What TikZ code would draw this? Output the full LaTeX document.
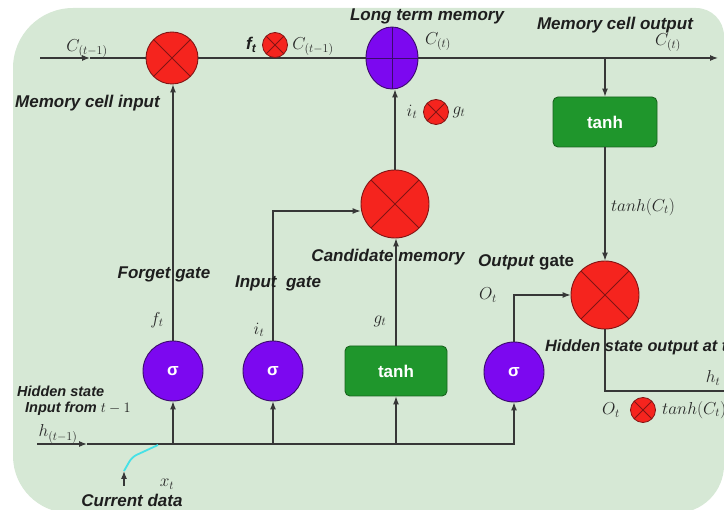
\documentclass[tikz,border=0pt]{standalone}
\usepackage{fontspec}
\setsansfont{Liberation Sans}
\usetikzlibrary{arrows.meta,shapes.geometric}

\definecolor{bgfill}{RGB}{214,232,213}
\definecolor{mulred}{RGB}{245,36,30}
\definecolor{rededge}{RGB}{130,20,20}
\definecolor{gatepurple}{RGB}{124,8,240}
\definecolor{purpleedge}{RGB}{60,10,110}
\definecolor{boxgreen}{RGB}{31,150,44}
\definecolor{greenedge}{RGB}{25,100,30}
\definecolor{linegray}{RGB}{55,55,55}
\definecolor{lblgray}{RGB}{30,30,30}
\definecolor{mathgray}{RGB}{40,40,40}
\definecolor{datacyan}{RGB}{70,225,230}

\tikzset{
  ln/.style={draw=linegray, line width=1.1pt},
  arr/.style={ln, -{Latex[length=8pt,width=6pt]}},
  lbl/.style={font=\fontsize{17}{20}\selectfont\sffamily\bfseries\itshape, text=lblgray, inner sep=0},
  lblsmall/.style={font=\fontsize{14.5}{17}\selectfont\sffamily\bfseries\itshape, text=lblgray, inner sep=0},
  mth/.style={font=\fontsize{18}{21}\selectfont, text=mathgray, inner sep=0},
  mul/.style={circle, draw=rededge, line width=0.9pt, fill=mulred, inner sep=0,
    path picture={\draw[rededge, line width=0.9pt]
      (path picture bounding box.north west) -- (path picture bounding box.south east)
      (path picture bounding box.north east) -- (path picture bounding box.south west);}},
  addop/.style={ellipse, draw=purpleedge, line width=0.9pt, fill=gatepurple, inner sep=0,
    minimum width=52, minimum height=62,
    path picture={\draw[purpleedge, line width=0.9pt]
      (path picture bounding box.north) -- (path picture bounding box.south)
      (path picture bounding box.west) -- (path picture bounding box.east);}},
  sig/.style={circle, draw=purpleedge, line width=0.9pt, fill=gatepurple, inner sep=0,
    minimum size=60, text=white, font=\fontsize{17}{19}\selectfont\sffamily\bfseries},
  tbox/.style={rectangle, rounded corners=5pt, draw=greenedge, line width=0.9pt, fill=boxgreen,
    minimum width=102, minimum height=50, text=white,
    font=\fontsize{17}{20}\selectfont\sffamily\bfseries},
}

\begin{document}
\begin{tikzpicture}[x=1pt,y=-1pt]
\useasboundingbox (0,0) rectangle (724,510);
\clip (0,0) rectangle (724,510);

% panel
\fill[bgfill] (73,8) -- (696,8) arc[start angle=-90,end angle=0,radius=28]
  -- (724,465) arc[start angle=0,end angle=90,radius=48]
  -- (70,513) arc[start angle=90,end angle=180,radius=57]
  -- (13,68) arc[start angle=180,end angle=270,radius=60] -- cycle;

% operators
\node[mul, minimum size=52] (fx) at (172,58) {};
\node[addop] (px) at (392,58) {};
\node[mul, minimum size=68] (cx) at (395,204) {};
\node[mul, minimum size=68] (ox) at (605,295) {};

% gates
\node[sig] (sf) at (173,371) {σ};
\node[sig] (si) at (273,371) {σ};
\node[sig] (so) at (514,372) {σ};
\node[tbox] (tb) at (396,371) {tanh};
\node[tbox, minimum width=104] (tt) at (605,122) {tanh};

% free ends
\coordinate (cin) at (40,58);
\coordinate (cmid) at (90,58);
\coordinate (cout) at (718,58);
\coordinate (ctap) at (605,58);
\coordinate (hin) at (37,444);
\coordinate (hmid) at (87,444);
\coordinate (hout) at (724,391);
\coordinate (xbase) at (124,486);
\coordinate (xtip) at (124,471);
\coordinate (xbend) at (132,457);
\coordinate (xjoin) at (158,445);

% cell state line
\draw[arr] (cin) -- (cmid);
\draw[ln] (cmid) -- (fx.west);
\draw[ln] (fx.east) -- (px.west);
\draw[arr] (px.east) -- (cout);
\draw[arr] (ctap) -- (tt.north);
\draw[arr] (tt.south) -- (ox.north);
\draw[ln] (ox.south) |- (hout);

% hidden state line and its branches
\draw[arr] (hin) -- (hmid);
\draw[arr] (hmid) -| (so.south);
\draw[arr] (sf.south |- hin) -- (sf.south);
\draw[arr] (si.south |- hin) -- (si.south);
\draw[arr] (tb.south |- hin) -- (tb.south);

% gate outputs
\draw[arr] (sf.north) -- (sf.north |- fx.south);
\draw[arr] (si.north) |- ([yshift=-7pt]cx.west);
\draw[arr] (tb.north) -- (tb.north |- cx.south);
\draw[arr] (cx.north) -- (cx.north |- px.south);
\draw[arr] (so.north) |- (ox.west);

% current input
\draw[arr] (xbase) -- (xtip);
\draw[datacyan, line width=1.8pt, rounded corners=5pt] (xtip) -- (xbend) -- (xjoin);

% text labels
\node[lbl, anchor=west] at (15,103) {Memory cell input};
\node[lbl] at (427,16) {Long term memory};
\node[lbl] at (615,25) {Memory cell output};
\node[lbl] at (164,274) {Forget gate};
\node[lbl] at (278,283) {Input\ \ gate};
\node[lbl] at (388,257) {Candidate memory};
\node[lbl, anchor=west] at (478,262) {Output \textup{gate}};
\node[lbl, anchor=west, font=\fontsize{16.3}{19}\selectfont\sffamily\bfseries\itshape] at (545,347) {Hidden state output at t};
\node[lblsmall, anchor=west] at (17,391) {Hidden state};
\node[lblsmall, anchor=west] at (25,409) {Input from {\normalfont\itshape\fontsize{14.5}{17}\selectfont$t-1$}};
\node[lbl] at (132,500) {Current data};

% symbols
\node[mth] at (87,49) {$C_{(t-1)}$};
\node[lbl] at (251,45) {f\raisebox{-3pt}{\fontsize{12}{14}\selectfont t}};
\node[mul, minimum size=25, line width=0.8pt] (fxs) at (275,45) {};
\node[mth] at (313,47) {$C_{(t-1)}$};
\node[mth] at (438,42) {$C_{(t)}$};
\node[mth] at (412,112) {$i_t$};
\node[mul, minimum size=25, line width=0.8pt] (igs) at (436,112) {};
\node[mth] at (459,112) {$g_t$};
\node[mth] at (668,43) {$C_{(t)}$};
\node[mth] at (643,207) {$tanh(C_t)$};
\node[mth] at (157,320) {$f_t$};
\node[mth] at (259,330) {$i_t$};
\node[mth] at (380,321) {$g_t$};
\node[mth] at (488,295) {$O_t$};
\node[mth] at (713,378) {$h_t$};
\node[mth] at (611,410) {$O_t$};
\node[mul, minimum size=25, line width=0.8pt] (ots) at (643,410) {};
\node[mth, anchor=west] at (662,410) {$tanh(C_t)$};
\node[mth] at (167,484) {$x_t$};
\node[mth] at (58,434) {$h_{(t-1)}$};
\end{tikzpicture}
\end{document}
